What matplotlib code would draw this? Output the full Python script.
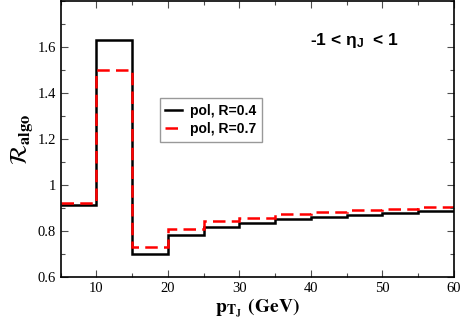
import numpy as np
import matplotlib
matplotlib.use("Agg")
import matplotlib.pyplot as plt
from matplotlib.ticker import MultipleLocator

# bin edges in pT_J (GeV)
EDGES = [5, 10, 15, 20, 25, 30, 35, 40, 45, 50, 55, 60]
R04 = [0.913, 1.63, 0.700, 0.784, 0.816, 0.836, 0.851, 0.861, 0.871, 0.880, 0.888]
R07 = [0.921, 1.50, 0.732, 0.810, 0.842, 0.858, 0.872, 0.883, 0.890, 0.897, 0.903]
LABELS = ["pol, R=0.4", "pol, R=0.7"]

plt.rcParams["mathtext.fontset"] = "stix"

fig = plt.figure(figsize=(4.63, 3.25), dpi=100)
ax = fig.add_axes([0.1307, 0.1477, 0.8499, 0.8493])

ax.stairs(R04, EDGES, baseline=None, color="black", linewidth=1.8, label=LABELS[0])
ax.stairs(R07, EDGES, baseline=None, color="red", linewidth=1.8,
          linestyle=(0, (5, 2.5)), label=LABELS[1])

ax.set_xlim(5, 60)
ax.set_ylim(0.6, 1.8)
ax.xaxis.set_major_locator(MultipleLocator(10))
ax.xaxis.set_minor_locator(MultipleLocator(5))
ax.yaxis.set_major_locator(MultipleLocator(0.2))
ax.yaxis.set_minor_locator(MultipleLocator(0.1))
ax.set_yticks([0.6, 0.8, 1.0, 1.2, 1.4, 1.6])
ax.set_yticklabels(["0.6", "0.8", "1", "1.2", "1.4", "1.6"])
ax.tick_params(which="both", direction="in", top=True, right=True,
               labelsize=10.5, colors="black")
ax.tick_params(which="major", length=5, width=0.8, color="0.3")
ax.tick_params(which="minor", length=3, width=0.8, color="0.3")
for lab in ax.get_xticklabels() + ax.get_yticklabels():
    lab.set_fontfamily("Liberation Serif")
for sp in ax.spines.values():
    sp.set_linewidth(1.2)

ax.set_xlabel(r"$\mathbf{p}_{\mathbf{T}_{\mathbf{J}}}$ $\mathbf{(GeV)}$", fontsize=14, labelpad=1)
ax.set_ylabel(r"$\mathcal{R}_{\mathbf{algo}}$", fontsize=17, labelpad=2)

ax.text(0.634, 0.84, r"-1 < $\mathregular{\eta_J}$  < 1", transform=ax.transAxes,
        fontsize=12.5, fontweight="bold", family="Liberation Sans")

leg = ax.legend(loc="upper left", bbox_to_anchor=(0.234, 0.672), frameon=True,
                fancybox=False, handlelength=1.2, handletextpad=0.6,
                borderpad=0.4, labelspacing=0.3,
                prop={"family": "Liberation Sans", "weight": "bold", "size": 10})
leg.get_frame().set_edgecolor("0.5")
leg.get_frame().set_linewidth(1.0)

fig.savefig("out.png", dpi=100)
